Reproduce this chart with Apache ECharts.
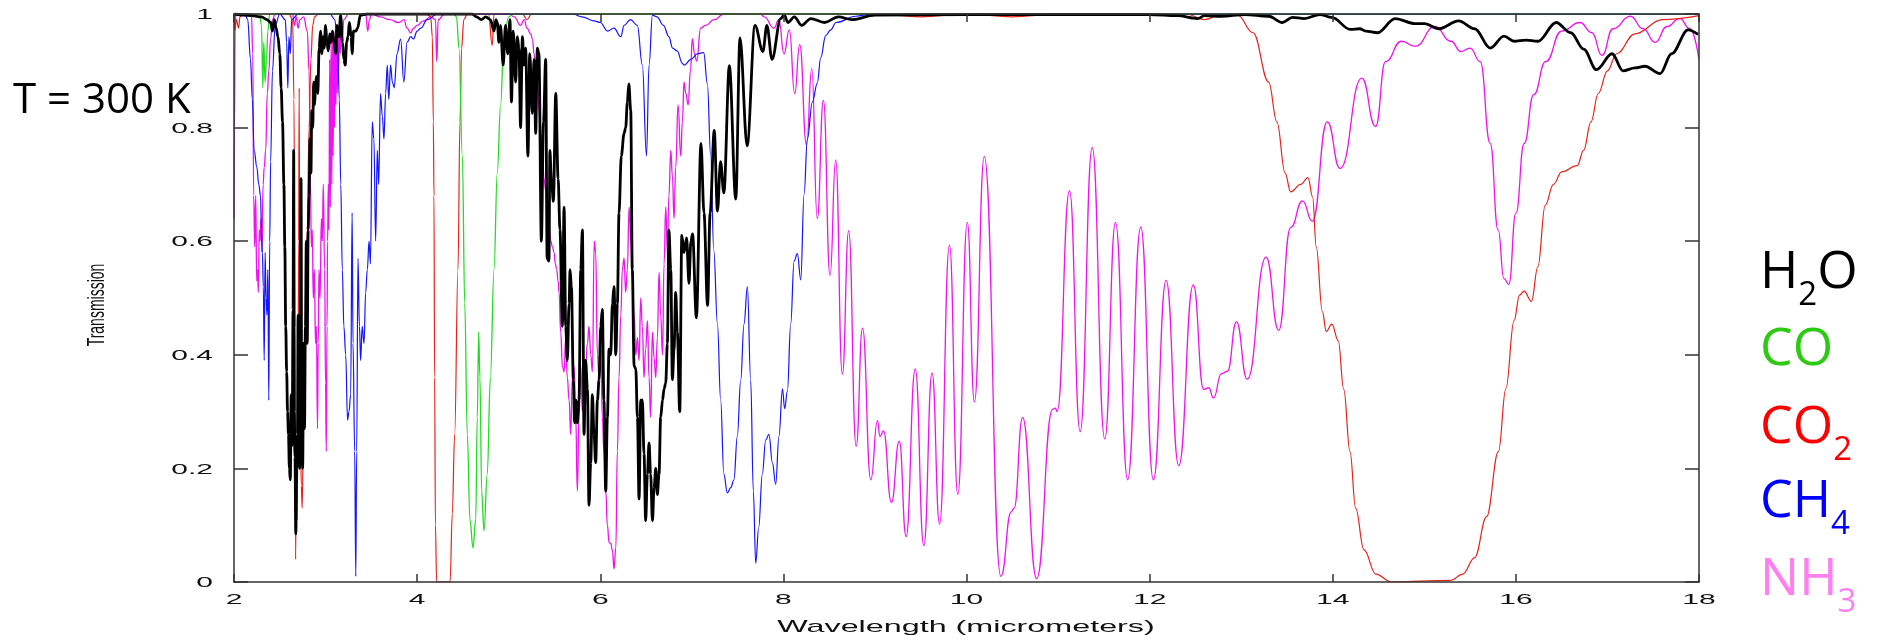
<!DOCTYPE html>
<html><head><meta charset="utf-8">
<script src="https://cdn.jsdelivr.net/npm/echarts@6/dist/echarts.min.js"></script>
<style>html,body{margin:0;padding:0;background:#fff}#c{width:1878px;height:643px}</style>
</head><body><div id="c"></div>
<script>
// ---------- axis ticks ----------
const xTicks = [2, 4, 6, 8, 10, 12, 14, 16, 18];
const xTickLabels = ['2', '4', '6', '8', '10', '12', '14', '16', '18'];
const yTicks = [0, 0.2, 0.4, 0.6, 0.8, 1];
const yTickLabels = ['0', '0.2', '0.4', '0.6', '0.8', '1'];
const xName = 'Wavelength (micrometers)';
const yName = 'Transmission';
const tempLabel = 'T = 300 K';

// ---------- series: [wavelength (um), transmission] ----------
const h2o = [[2.0,1.0],[2.1,0.998],[2.2,0.997],[2.3,0.995],[2.36,0.99],[2.4,0.985],[2.42,0.97],[2.44,0.99],[2.46,0.975],[2.48,0.96],[2.5,0.93],[2.515,0.87],[2.53,0.81],[2.545,0.7],[2.555,0.59],[2.565,0.45],[2.575,0.37],[2.585,0.3],[2.595,0.26],[2.605,0.2],[2.615,0.18],[2.625,0.33],[2.635,0.24],[2.645,0.48],[2.652,0.76],[2.658,0.3],[2.666,0.22],[2.675,0.085],[2.685,0.2],[2.693,0.26],[2.70,0.47],[2.708,0.36],[2.716,0.2],[2.724,0.35],[2.732,0.71],[2.74,0.25],[2.75,0.2],[2.76,0.42],[2.77,0.27],[2.78,0.45],[2.79,0.6],[2.8,0.42],[2.81,0.62],[2.82,0.68],[2.83,0.78],[2.84,0.72],[2.85,0.83],[2.86,0.8],[2.87,0.88],[2.88,0.84],[2.89,0.87],[2.9,0.89],[2.915,0.86],[2.93,0.94],[2.945,0.97],[2.96,0.93],[2.975,0.96],[2.985,0.94],[3.0,0.98],[3.015,0.95],[3.03,0.935],[3.045,0.965],[3.06,0.95],[3.075,0.97],[3.09,0.955],[3.11,0.93],[3.125,0.98],[3.145,0.96],[3.165,0.998],[3.185,0.95],[3.2,0.92],[3.215,0.91],[3.23,0.95],[3.245,0.96],[3.26,0.985],[3.28,0.96],[3.29,0.93],[3.305,0.97],[3.33,0.97],[3.35,0.975],[3.38,0.998],[3.45,1.0],[4.6,1.0],[4.65,0.995],[4.7,0.99],[4.75,0.995],[4.8,0.99],[4.84,0.97],[4.86,0.99],[4.875,0.985],[4.894,0.95],[4.91,0.98],[4.94,0.91],[4.965,0.98],[4.99,0.93],[5.014,0.99],[5.03,0.845],[5.05,0.97],[5.076,0.88],[5.094,0.96],[5.112,0.94],[5.13,0.8],[5.15,0.96],[5.167,0.91],[5.185,0.94],[5.21,0.75],[5.23,0.93],[5.258,0.825],[5.277,0.92],[5.295,0.79],[5.313,0.94],[5.33,0.93],[5.357,0.6],[5.38,0.81],[5.404,0.92],[5.42,0.57],[5.44,0.565],[5.45,0.76],[5.466,0.71],[5.488,0.67],[5.514,0.86],[5.54,0.71],[5.56,0.62],[5.586,0.45],[5.605,0.66],[5.623,0.45],[5.64,0.39],[5.66,0.49],[5.67,0.55],[5.685,0.52],[5.706,0.356],[5.72,0.28],[5.735,0.32],[5.75,0.28],[5.768,0.32],[5.787,0.55],[5.805,0.62],[5.823,0.26],[5.84,0.39],[5.86,0.34],[5.877,0.135],[5.896,0.21],[5.914,0.33],[5.932,0.26],[5.95,0.21],[5.969,0.32],[5.987,0.356],[6.005,0.45],[6.023,0.48],[6.04,0.32],[6.06,0.16],[6.078,0.29],[6.096,0.41],[6.114,0.40],[6.133,0.49],[6.15,0.52],[6.17,0.40],[6.187,0.49],[6.205,0.65],[6.23,0.75],[6.26,0.79],[6.278,0.80],[6.296,0.845],[6.312,0.877],[6.333,0.83],[6.35,0.55],[6.37,0.38],[6.388,0.376],[6.406,0.29],[6.424,0.146],[6.442,0.32],[6.46,0.32],[6.478,0.226],[6.496,0.108],[6.515,0.19],[6.533,0.245],[6.55,0.19],[6.57,0.108],[6.588,0.165],[6.606,0.2],[6.624,0.154],[6.642,0.19],[6.66,0.29],[6.68,0.32],[6.697,0.34],[6.715,0.35],[6.733,0.42],[6.75,0.62],[6.77,0.55],[6.788,0.356],[6.806,0.41],[6.824,0.51],[6.842,0.44],[6.868,0.30],[6.891,0.61],[6.915,0.58],[6.943,0.606],[6.969,0.526],[6.99,0.6],[7.008,0.613],[7.05,0.465],[7.1,0.772],[7.133,0.65],[7.172,0.487],[7.2,0.65],[7.245,0.795],[7.28,0.653],[7.314,0.74],[7.35,0.685],[7.41,0.909],[7.48,0.674],[7.526,0.958],[7.604,0.768],[7.69,0.98],[7.776,0.934],[7.82,0.98],[7.876,0.92],[7.97,0.992],[8.01,0.998],[8.05,0.985],[8.12,0.995],[8.2,0.98],[8.3,0.992],[8.45,0.985],[8.6,0.995],[8.75,0.99],[9.0,0.998],[10,0.999],[11,0.999],[12,0.999],[12.3,0.997],[12.525,0.992],[12.6,0.997],[12.78,0.996],[13.04,0.999],[13.3,0.996],[13.45,0.985],[13.56,0.994],[13.69,0.992],[13.86,0.999],[13.99,0.994],[14.19,0.973],[14.295,0.974],[14.36,0.97],[14.49,0.967],[14.68,0.992],[14.9,0.983],[15.0,0.983],[15.16,0.974],[15.375,0.988],[15.55,0.974],[15.72,0.94],[15.87,0.961],[15.98,0.952],[16.11,0.954],[16.24,0.952],[16.44,0.985],[16.6,0.967],[16.74,0.938],[16.88,0.902],[17.05,0.93],[17.17,0.9],[17.3,0.905],[17.41,0.908],[17.575,0.895],[17.7,0.93],[17.88,0.972],[17.99,0.964]];

const co = [[2.0,1.0],[2.28,1.0],[2.3,0.98],[2.315,0.87],[2.325,0.95],[2.34,0.88],[2.355,0.92],[2.37,0.97],[2.39,1.0],[4.40,1.0],[4.43,0.995],[4.457,0.94],[4.494,0.75],[4.52,0.49],[4.548,0.26],[4.577,0.11],[4.61,0.06],[4.64,0.11],[4.657,0.29],[4.672,0.44],[4.686,0.36],[4.705,0.16],[4.73,0.09],[4.766,0.19],[4.8,0.36],[4.84,0.55],[4.875,0.72],[4.912,0.84],[4.948,0.96],[5.0,0.995],[5.05,1.0],[18,1.0]];

const co2 = [[2.0,1.0],[2.01,0.97],[2.025,0.99],[2.05,0.975],[2.065,0.995],[2.1,1.0],[2.6,1.0],[2.64,0.99],[2.655,0.85],[2.665,0.45],[2.673,0.04],[2.68,0.2],[2.69,0.11],[2.70,0.35],[2.706,0.6],[2.712,0.87],[2.718,0.5],[2.724,0.29],[2.735,0.17],[2.745,0.13],[2.76,0.3],[2.78,0.45],[2.8,0.62],[2.82,0.8],[2.84,0.92],[2.86,0.98],[2.88,0.995],[2.92,1.0],[4.1,1.0],[4.148,0.995],[4.166,0.96],[4.177,0.81],[4.184,0.68],[4.191,0.36],[4.2,0.1],[4.213,0.0],[4.36,0.0],[4.384,0.12],[4.41,0.26],[4.446,0.55],[4.468,0.81],[4.486,0.94],[4.51,0.99],[4.55,1.0],[4.78,1.0],[4.82,0.945],[4.84,1.0],[5.15,1.0],[5.2,0.99],[5.25,1.0],[9.0,1.0],[9.5,0.995],[10.0,1.0],[10.5,0.995],[11,1.0],[12.4,1.0],[12.6,0.99],[12.8,1.0],[12.96,0.998],[13.13,0.967],[13.3,0.88],[13.39,0.81],[13.48,0.72],[13.54,0.687],[13.65,0.70],[13.73,0.712],[13.78,0.678],[13.82,0.59],[13.886,0.476],[13.93,0.441],[13.99,0.454],[14.06,0.425],[14.12,0.339],[14.188,0.23],[14.25,0.13],[14.34,0.057],[14.47,0.014],[14.64,0.0],[15.29,0.003],[15.42,0.014],[15.55,0.043],[15.68,0.115],[15.81,0.23],[15.89,0.34],[15.98,0.46],[16.04,0.505],[16.09,0.512],[16.17,0.494],[16.24,0.555],[16.32,0.663],[16.41,0.70],[16.5,0.722],[16.67,0.733],[16.74,0.76],[16.82,0.81],[16.9,0.86],[17.0,0.9],[17.1,0.93],[17.3,0.965],[17.6,0.99],[18,0.997]];

const ch4 = [[2.0,1.0],[2.12,1.0],[2.15,0.99],[2.18,0.92],[2.2,0.85],[2.22,0.76],[2.25,0.73],[2.27,0.7],[2.29,0.68],[2.3,0.62],[2.31,0.58],[2.32,0.52],[2.33,0.39],[2.34,0.58],[2.35,0.5],[2.36,0.47],[2.37,0.55],[2.38,0.32],[2.39,0.6],[2.40,0.74],[2.42,0.9],[2.45,0.98],[2.5,1.0],[2.56,0.99],[2.575,0.95],[2.588,0.87],[2.6,0.96],[2.615,0.93],[2.63,0.99],[2.7,1.0],[3.05,1.0],[3.1,0.99],[3.13,0.95],[3.15,0.85],[3.166,0.7],[3.183,0.55],[3.2,0.45],[3.22,0.40],[3.24,0.285],[3.256,0.3],[3.274,0.33],[3.29,0.65],[3.30,0.42],[3.318,0.23],[3.33,0.01],[3.34,0.23],[3.354,0.57],[3.37,0.45],[3.383,0.39],[3.40,0.45],[3.42,0.42],[3.438,0.51],[3.456,0.55],[3.475,0.6],[3.49,0.56],[3.51,0.81],[3.528,0.78],[3.547,0.6],[3.565,0.76],[3.58,0.7],[3.6,0.86],[3.62,0.82],[3.638,0.78],[3.656,0.86],[3.674,0.91],[3.69,0.85],[3.71,0.91],[3.73,0.88],[3.75,0.87],[3.78,0.93],[3.82,0.956],[3.855,0.88],[3.89,0.95],[3.93,0.96],[3.96,0.956],[4.0,0.97],[4.04,0.975],[4.11,0.99],[4.22,1.0],[5.7,1.0],[5.8,0.995],[5.93,0.988],[6.0,0.985],[6.08,0.97],[6.15,0.975],[6.224,0.96],[6.26,0.98],[6.33,0.99],[6.405,0.98],[6.46,0.91],[6.505,0.75],[6.533,0.91],[6.57,0.998],[6.62,0.995],[6.69,0.98],[6.75,0.96],[6.79,0.94],[6.84,0.935],[6.897,0.913],[6.915,0.91],[6.99,0.92],[7.06,0.93],[7.13,0.932],[7.17,0.877],[7.206,0.75],[7.24,0.584],[7.28,0.454],[7.315,0.32],[7.35,0.19],[7.388,0.157],[7.425,0.166],[7.46,0.18],[7.497,0.257],[7.534,0.355],[7.57,0.454],[7.607,0.52],[7.643,0.355],[7.672,0.16],[7.698,0.033],[7.73,0.095],[7.77,0.19],[7.807,0.25],[7.843,0.26],[7.88,0.21],[7.916,0.172],[7.952,0.257],[7.99,0.34],[8.014,0.305],[8.044,0.336],[8.08,0.454],[8.117,0.565],[8.153,0.578],[8.19,0.532],[8.226,0.682],[8.262,0.78],[8.317,0.845],[8.37,0.878],[8.408,0.923],[8.462,0.962],[8.517,0.972],[8.575,0.985],[8.79,0.996],[8.96,1.0],[18,1.0]];

const nh3 = [[2.0,0.64],[2.005,0.8],[2.012,0.97],[2.02,1.0],[2.19,1.0],[2.205,0.93],[2.215,0.68],[2.226,0.59],[2.237,0.68],[2.248,0.53],[2.258,0.55],[2.266,0.51],[2.276,0.62],[2.284,0.6],[2.295,0.64],[2.305,0.58],[2.318,0.7],[2.33,0.73],[2.346,0.76],[2.364,0.86],[2.38,0.9],[2.4,0.956],[2.42,0.99],[2.45,1.0],[2.64,1.0],[2.66,0.98],[2.68,0.995],[2.7,0.975],[2.72,0.99],[2.76,0.995],[2.8,0.97],[2.82,0.9],[2.835,0.7],[2.845,0.59],[2.855,0.62],[2.866,0.5],[2.878,0.55],[2.89,0.42],[2.9,0.45],[2.912,0.27],[2.92,0.42],[2.928,0.55],[2.94,0.5],[2.954,0.64],[2.965,0.6],[2.975,0.7],[2.99,0.55],[3.0,0.35],[3.008,0.23],[3.016,0.45],[3.022,0.6],[3.03,0.7],[3.037,0.62],[3.045,0.92],[3.052,0.66],[3.06,0.95],[3.068,0.7],[3.075,0.96],[3.083,0.75],[3.09,0.96],[3.098,0.8],[3.105,0.97],[3.113,0.84],[3.12,0.97],[3.128,0.86],[3.135,0.98],[3.143,0.9],[3.15,0.98],[3.16,0.93],[3.17,0.99],[3.183,0.96],[3.2,0.99],[3.25,1.0],[3.44,1.0],[3.46,0.97],[3.48,0.99],[3.5,1.0],[3.6,0.995],[3.7,0.99],[3.8,0.985],[3.856,0.99],[3.89,0.975],[3.93,0.967],[3.96,0.975],[4.0,0.98],[4.07,0.988],[4.15,0.995],[4.2,0.99],[4.215,0.916],[4.23,0.99],[4.3,1.0],[5.0,1.0],[5.06,0.995],[5.13,0.98],[5.17,0.99],[5.2,0.975],[5.24,0.965],[5.26,0.955],[5.277,0.93],[5.295,0.9],[5.313,0.88],[5.33,0.83],[5.35,0.79],[5.368,0.76],[5.386,0.71],[5.404,0.69],[5.42,0.66],[5.44,0.63],[5.46,0.6],[5.478,0.59],[5.495,0.58],[5.51,0.56],[5.524,0.55],[5.54,0.53],[5.55,0.51],[5.568,0.44],[5.587,0.38],[5.605,0.37],[5.623,0.43],[5.64,0.36],[5.66,0.32],[5.677,0.26],[5.696,0.36],[5.714,0.38],[5.732,0.29],[5.75,0.16],[5.768,0.29],[5.787,0.38],[5.805,0.30],[5.823,0.33],[5.84,0.38],[5.86,0.42],[5.877,0.45],[5.896,0.40],[5.914,0.37],[5.935,0.6],[5.95,0.58],[5.969,0.40],[5.987,0.36],[6.005,0.42],[6.023,0.29],[6.04,0.23],[6.06,0.16],[6.078,0.10],[6.096,0.07],[6.114,0.068],[6.133,0.056],[6.15,0.023],[6.17,0.06],[6.187,0.23],[6.205,0.36],[6.224,0.47],[6.242,0.55],[6.26,0.57],[6.278,0.51],[6.296,0.55],[6.315,0.66],[6.333,0.60],[6.35,0.55],[6.37,0.47],[6.388,0.40],[6.406,0.43],[6.424,0.39],[6.442,0.50],[6.46,0.45],[6.478,0.36],[6.496,0.41],[6.515,0.46],[6.533,0.36],[6.55,0.29],[6.57,0.44],[6.588,0.395],[6.606,0.36],[6.624,0.43],[6.642,0.545],[6.66,0.47],[6.68,0.40],[6.697,0.56],[6.715,0.66],[6.733,0.58],[6.75,0.68],[6.77,0.76],[6.788,0.715],[6.806,0.64],[6.824,0.73],[6.85,0.84],[6.879,0.75],[6.897,0.81],[6.915,0.88],[6.935,0.86],[6.96,0.84],[6.985,0.9],[7.006,0.956],[7.03,0.93],[7.053,0.917],[7.097,0.975],[7.15,0.98],[7.243,0.99],[7.35,1.0],[7.75,1.0],[7.79,0.995],[7.898,0.975],[7.95,0.99],[8.007,0.93],[8.065,0.972],[8.124,0.86],[8.178,0.946],[8.253,0.77],[8.31,0.904],[8.37,0.64],[8.437,0.848],[8.51,0.54],[8.571,0.743],[8.644,0.366],[8.713,0.618],[8.795,0.239],[8.864,0.447],[8.955,0.18],[9.028,0.284],[9.055,0.256],[9.093,0.266],[9.18,0.14],[9.266,0.248],[9.34,0.08],[9.44,0.375],[9.534,0.064],[9.624,0.368],[9.706,0.102],[9.814,0.593],[9.905,0.154],[10.009,0.633],[10.086,0.317],[10.194,0.749],[10.375,0.01],[10.49,0.124],[10.52,0.13],[10.612,0.29],[10.766,0.006],[10.94,0.304],[10.97,0.306],[10.99,0.3],[11.125,0.689],[11.241,0.265],[11.373,0.765],[11.51,0.252],[11.627,0.633],[11.76,0.18],[11.903,0.625],[12.041,0.18],[12.18,0.531],[12.318,0.205],[12.477,0.523],[12.59,0.339],[12.646,0.342],[12.698,0.324],[12.784,0.367],[12.85,0.371],[12.948,0.458],[13.065,0.357],[13.272,0.572],[13.41,0.443],[13.54,0.624],[13.67,0.671],[13.777,0.635],[13.94,0.81],[14.08,0.728],[14.317,0.887],[14.468,0.802],[14.576,0.916],[14.75,0.952],[14.9,0.943],[15.116,0.978],[15.29,0.952],[15.4,0.934],[15.5,0.94],[15.61,0.916],[15.72,0.772],[15.806,0.62],[15.87,0.534],[15.923,0.524],[16.0,0.649],[16.09,0.772],[16.195,0.858],[16.325,0.916],[16.5,0.97],[16.7,0.985],[16.83,0.967],[16.94,0.927],[17.06,0.974],[17.25,0.996],[17.39,0.974],[17.52,0.95],[17.65,0.978],[17.79,0.992],[17.9,0.974],[18.0,0.92]];

// ---------- legend labels (text, subscript flag) ----------
const legendNames = [
  [['H',0],['2',1],['O',0]],
  [['CO',0]],
  [['CO',0],['2',1]],
  [['CH',0],['4',1]],
  [['NH',0],['3',1]]
];
const legendColors = ['#000000', '#2ccb12', '#ff0000', '#0000ff', '#ff7ff0'];
const lineColors = {h2o:'#000000', co:'#22dd22', co2:'#e8221a', ch4:'#1414ff', nh3:'#f012f0'};

// ---------- chart ----------
const chart = echarts.init(document.getElementById('c'));
const axisLine = {show:true, onZero:false, lineStyle:{color:'#333', width:1.5}};
const xAx = (pos) => ({type:'value', min:2, max:18, interval:2, position:pos, z:10,
  axisLine, axisTick:{show:true, inside:true, length:8, lineStyle:{color:'#333', width:1.5}},
  axisLabel:{show:false}, splitLine:{show:false}});
const yAx = (pos) => ({type:'value', min:0, max:1, interval:0.2, position:pos, z:10,
  axisLine, axisTick:{show:true, inside:true, length:14, lineStyle:{color:'#333', width:1.5}},
  axisLabel:{show:false}, splitLine:{show:false}});
const mk = (name, data, color, width, smooth) => ({
  name, type:'line', data, showSymbol:false, symbol:'none', smooth, smoothMonotone:'x',
  lineStyle:{color, width}, xAxisIndex:0, yAxisIndex:0, clip:true, silent:true
});
chart.setOption({
  animation:false,
  grid:{left:234, right:179, top:14, bottom:61},
  xAxis:[xAx('bottom'), xAx('top')],
  yAxis:[yAx('left'), yAx('right')],
  series:[
    mk('NH3', nh3, lineColors.nh3, 1.3, 0.5),
    mk('CO2', co2, lineColors.co2, 1.2, 0.4),
    mk('CO', co, lineColors.co, 1.3, 0.4),
    mk('CH4', ch4, lineColors.ch4, 1.2, 0.4),
    mk('H2O', h2o, lineColors.h2o, 2.8, 0.35)
  ]
});

// ---------- texts ----------
const g = [];
const tickFont = '15px "Liberation Sans"';
xTicks.forEach((v, i) => {
  const p = chart.convertToPixel({gridIndex:0}, [v, 0]);
  g.push({type:'text', x:p[0], y:600, scaleX:2.0, silent:true,
    style:{text:xTickLabels[i], font:tickFont, fill:'#111', align:'center', verticalAlign:'middle'}});
});
yTicks.forEach((v, i) => {
  const p = chart.convertToPixel({gridIndex:0}, [2, v]);
  g.push({type:'text', x:p[0] - 21, y:p[1] + 1, scaleX:2.0, silent:true,
    style:{text:yTickLabels[i], font:tickFont, fill:'#111', align:'right', verticalAlign:'middle'}});
});
g.push({type:'text', x:966, y:627, scaleX:1.9, silent:true,
  style:{text:xName, font:'17px "Liberation Sans"', fill:'#111', align:'center', verticalAlign:'middle'}});
g.push({type:'text', x:97, y:305, rotation:Math.PI/2, scaleY:1.7, silent:true,
  style:{text:yName, font:'14px "Liberation Sans"', fill:'#111', align:'center', verticalAlign:'middle'}});
g.push({type:'text', x:13, y:101, silent:true,
  style:{text:tempLabel, font:'42px "Open Sans"', fill:'#000', align:'left', verticalAlign:'middle'}});

const ctx = document.createElement('canvas').getContext('2d');
const tw = (t, s) => { ctx.font = s + 'px "Open Sans"'; return ctx.measureText(t).width; };
const baselines = [289, 366, 444, 518, 596];
const mainSize = 52, subSize = 33;
legendNames.forEach((parts, k) => {
  let x = 1760;
  parts.forEach(([t, sub]) => {
    const s = sub ? subSize : mainSize;
    const base = baselines[k] + (sub ? 16 : 0);
    g.push({type:'text', x, y:base - 0.30 * s, silent:true,
      style:{text:t, font:s + 'px "Open Sans"', fill:legendColors[k], align:'left', verticalAlign:'middle'}});
    x += tw(t, s);
  });
});
chart.setOption({graphic:g});
</script></body></html>
